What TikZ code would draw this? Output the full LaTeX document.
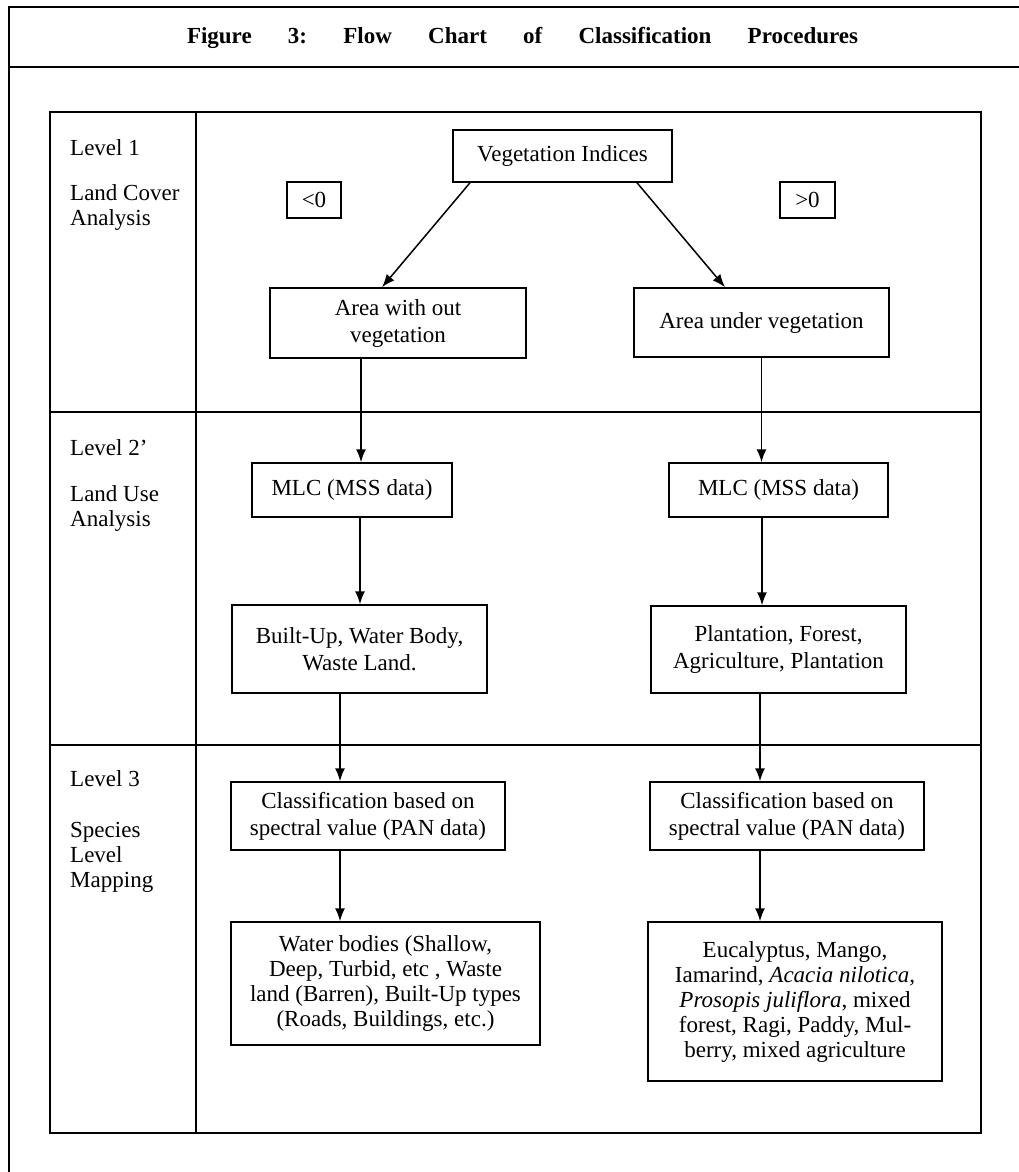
\documentclass[tikz,border=0pt]{standalone}
\usepackage{fontspec}
\setmainfont{Liberation Serif}
\usetikzlibrary{arrows.meta}

\begin{document}
\begin{tikzpicture}[x=1pt,y=-1pt,
    procbox/.style={draw,rectangle,line width=1.5pt,inner sep=2pt,align=center,
                    font=\fontsize{23}{27}\selectfont},
    listbox/.style={procbox,font=\fontsize{23}{25}\selectfont},
    signbox/.style={draw,rectangle,line width=1.5pt,inner sep=0pt,
                    font=\fontsize{23}{27}\selectfont},
    lvltext/.style={anchor=west,align=left,inner sep=0pt,
                    font=\fontsize{23}{25}\selectfont},
    frame/.style={line width=1.7pt},
    flow/.style={-{Latex[length=13pt,width=10pt]},line width=1.5pt}]
  \useasboundingbox (0,0) rectangle (1019,1172);

  \draw[frame] (1019,7) -- (9,7) -- (9,1172);
  \draw[frame] (9,67) -- (1019,67);
  \node[font=\fontsize{23}{27}\selectfont\bfseries, text width=671pt, inner sep=0pt]
        (title) at (522.5,38)
        {Figure\hfill 3:\hfill Flow\hfill Chart\hfill of\hfill Classification\hfill Procedures};

  \draw[frame] (50,112) rectangle (981,1133);
  \draw[frame] (196,112) -- (196,1133);
  \draw[frame] (50,412) -- (981,412);
  \draw[frame] (50,745) -- (981,745);

  \node[lvltext] (lvlOne)      at (70,148) {Level 1};
  \node[lvltext] (lvlOneTxt)   at (70,208) {Land Cover\\Analysis};
  \node[lvltext] (lvlTwo)      at (70,448) {Level 2'};
  \node[lvltext] (lvlTwoTxt)   at (70,508) {Land Use\\Analysis};
  \node[lvltext] (lvlThree)    at (70,779) {Level 3};
  \node[lvltext] (lvlThreeTxt) at (70,857) {Species\\Level\\Mapping};

  \node[procbox, minimum width=219pt, minimum height=52pt] (vegIndices) at (562.5,156)
        {Vegetation Indices};
  \node[signbox, minimum width=54pt, minimum height=36pt]  (lessZero)   at (314,200) {<0};
  \node[signbox, minimum width=55pt, minimum height=36pt]  (moreZero)   at (807.5,200) {>0};

  \node[procbox, minimum width=256pt, minimum height=70pt] (noVeg)      at (398,323)
        {Area with out\\vegetation};
  \node[procbox, minimum width=255pt, minimum height=69pt] (underVeg)   at (761.5,322.5)
        {Area under vegetation};
  \node[procbox, minimum width=200pt, minimum height=54pt] (mlcLeft)    at (352,490)
        {MLC (MSS data)};
  \node[procbox, minimum width=219pt, minimum height=54pt] (mlcRight)   at (778.5,490)
        {MLC (MSS data)};
  \node[procbox, minimum width=255pt, minimum height=88pt] (builtUp)    at (359.5,649)
        {Built-Up, Water Body,\\Waste Land.};
  \node[procbox, minimum width=255pt, minimum height=87pt] (plantation) at (778.5,649.5)
        {Plantation, Forest,\\Agriculture, Plantation};
  \node[procbox, minimum width=274pt, minimum height=68pt] (classLeft)  at (368,816)
        {Classification based on\\spectral value (PAN data)};
  \node[procbox, minimum width=274pt, minimum height=68pt] (classRight) at (787,816)
        {Classification based on\\spectral value (PAN data)};
  \node[listbox, minimum width=309pt, minimum height=123pt] (waterTypes) at (385.5,983.5)
        {Water bodies (Shallow,\\Deep, Turbid, etc , Waste\\land (Barren), Built-Up types\\(Roads, Buildings, etc.)};
  \node[listbox, minimum width=294pt, minimum height=159pt] (speciesTypes) at (795,1001.5)
        {Eucalyptus, Mango,\\Iamarind, \textit{Acacia nilotica,}\\\textit{Prosopis juliflora}, mixed\\forest, Ragi, Paddy, Mul-\\berry, mixed agriculture};

  \draw[flow] ([xshift=-92.5pt]vegIndices.south) -- ([xshift=-16pt]noVeg.north);
  \draw[flow] ([xshift=74.5pt]vegIndices.south) -- ([xshift=-36.5pt]underVeg.north);
  \draw[flow] ([xshift=-37pt]noVeg.south) -- ([xshift=-37pt]noVeg.south |- mlcLeft.north);
  \draw[flow] ([xshift=8pt]mlcLeft.south) -- ([xshift=8pt]mlcLeft.south |- builtUp.north);
  \draw[flow] ([xshift=-19.5pt]builtUp.south) -- ([xshift=-19.5pt]builtUp.south |- classLeft.north);
  \draw[flow] ([xshift=-28pt]classLeft.south) -- ([xshift=-28pt]classLeft.south |- waterTypes.north);
  \draw[flow] (underVeg.south) -- (underVeg.south |- mlcRight.north);
  \draw[flow] ([xshift=-16.5pt]mlcRight.south) -- ([xshift=-16.5pt]mlcRight.south |- plantation.north);
  \draw[flow] ([xshift=-18.5pt]plantation.south) -- ([xshift=-18.5pt]plantation.south |- classRight.north);
  \draw[flow] ([xshift=-27pt]classRight.south) -- ([xshift=-27pt]classRight.south |- speciesTypes.north);
\end{tikzpicture}
\end{document}
